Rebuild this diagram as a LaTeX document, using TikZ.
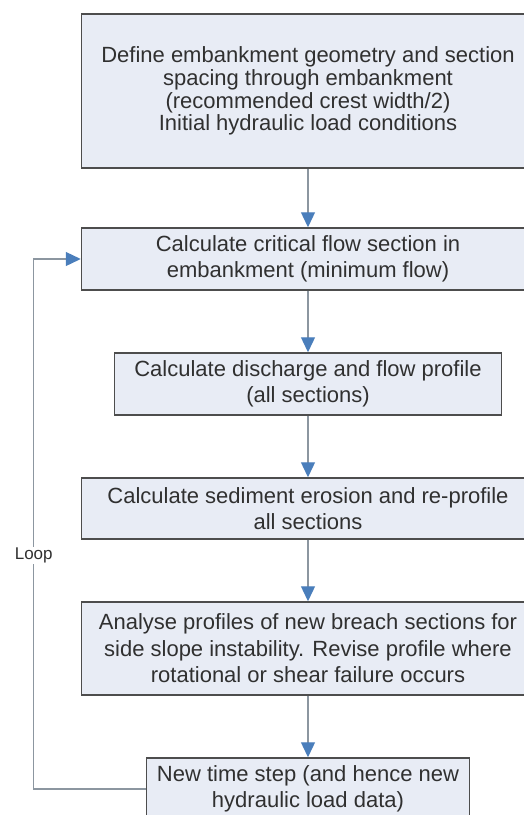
\documentclass[tikz,border=0pt]{standalone}
\usepackage{fontspec}
\setmainfont{Liberation Sans}
\usetikzlibrary{arrows.meta}

\definecolor{boxfill}{HTML}{E8ECF5}
\definecolor{boxdraw}{HTML}{4D4D4D}
\definecolor{linkgray}{HTML}{8C96A0}
\definecolor{tipblue}{HTML}{4A7EBB}
\definecolor{textgray}{HTML}{303030}

\begin{document}
\begin{tikzpicture}[x=1pt,y=-1pt,
    -{Triangle[width=14pt,length=15pt,color=tipblue]},
    draw=linkgray, line width=1.3pt]
    \tikzstyle{stepbox}=[rectangle,draw=boxdraw,fill=boxfill,line width=1.5pt,
        text=textgray,align=center,inner sep=0pt,minimum width=453pt,minimum height=62pt,
        font=\fontsize{22}{26.5}\selectfont]
    \tikzstyle{narrow box}=[stepbox, minimum width=387pt];
    \tikzstyle{small box}=[stepbox, minimum width=323pt];
    \tikzstyle{annot}=[fill=white,text=textgray,inner sep=1pt,font=\fontsize{17}{20}\selectfont]

    \useasboundingbox (0,0) rectangle (524,815);
    \clip (0,0) rectangle (524,815);

    % Draw the flow chart steps
    \node[stepbox, minimum height=154pt, font=\fontsize{22}{22.7}\selectfont] (S-1) at (308,91)
        {Define embankment geometry and section\\ spacing through embankment\\
         (recommended crest width/2)\\ Initial hydraulic load conditions};
    \node[stepbox] (S-2) at (308,259)
        {Calculate critical flow section in\\ embankment (minimum flow)};
    \node[narrow box] (S-3) at (308,384)
        {Calculate discharge and flow profile\\ (all sections)};
    \node[stepbox, minimum height=61pt] (S-4) at (308,508.5)
        {Calculate sediment erosion and re-profile\\ all sections};
    \node[stepbox, minimum height=93pt] (S-5) at (308,648.5)
        {Analyse profiles of new breach sections for\\ side slope instability. Revise profile where\\
         rotational or shear failure occurs};
    \node[small box] (S-6) at (308,789)
        {New time step (and hence new\\ hydraulic load data)};

    % Connect every step with the next one
    \foreach \source/\dest in {1/2,2/3,3/4,4/5,5/6}
        \path (S-\source) edge (S-\dest);

    % Loop back to the critical flow section
    \draw (S-6.west) -- ++(-112,0) |- node[annot, pos=0.22] {Loop} (S-2.west);
\end{tikzpicture}
\end{document}
